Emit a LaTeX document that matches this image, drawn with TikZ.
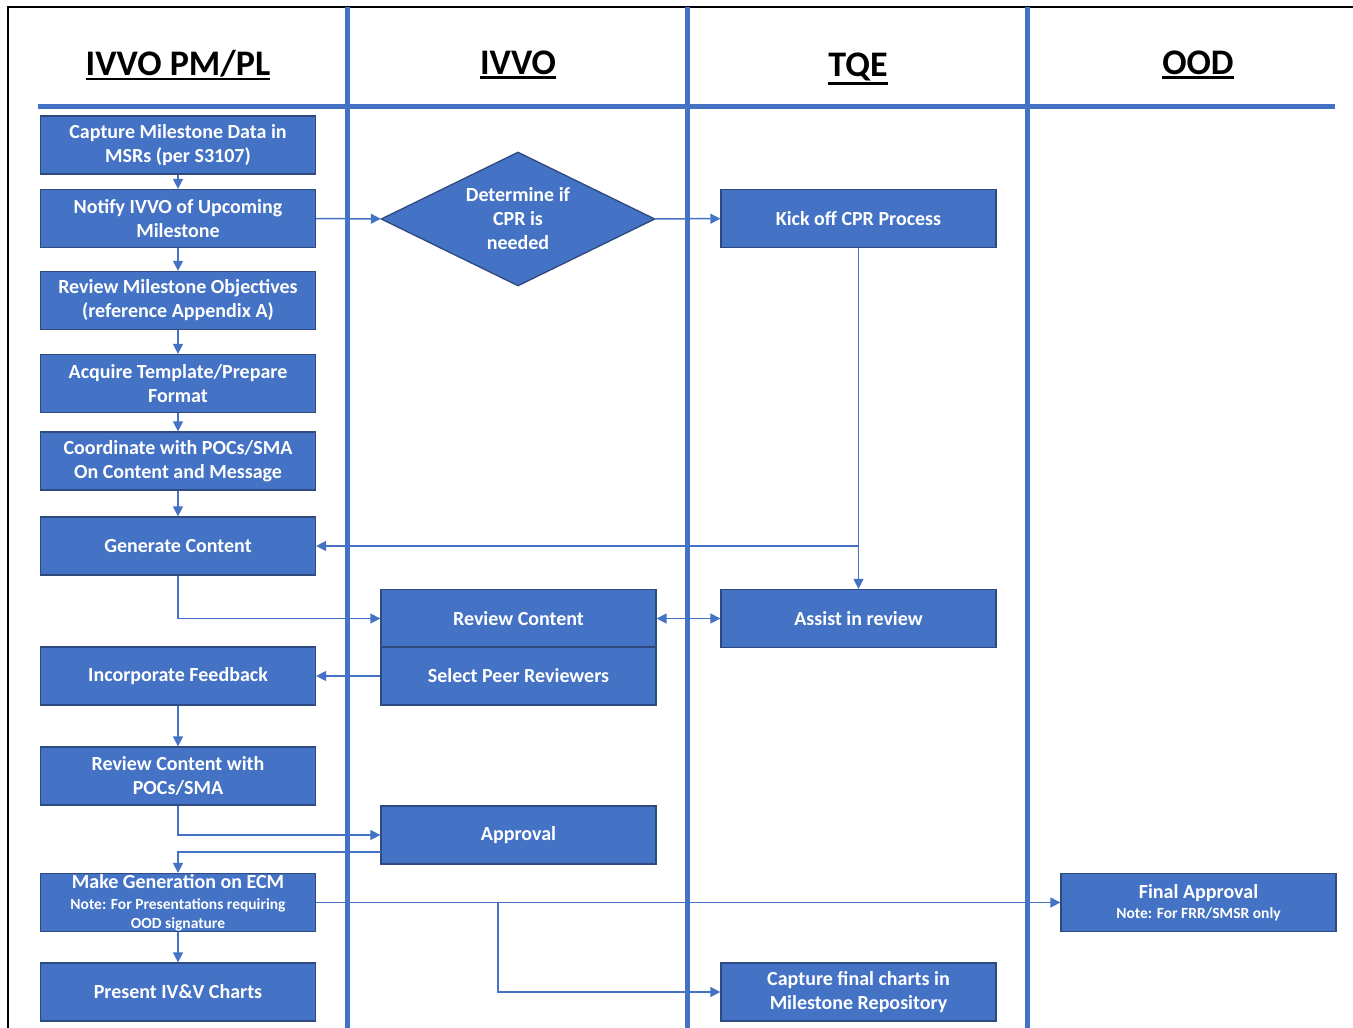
\documentclass[tikz,border=0pt]{standalone}
\usepackage{fontspec}
\setmainfont{Carlito}
\usetikzlibrary{shapes.geometric,arrows.meta}
\definecolor{laneblue}{HTML}{4472C4}
\definecolor{boxedge}{HTML}{2F4A7E}
\newcommand{\headul}[1]{\vtop{\hbox{#1}\kern1pt\hrule height 2.5pt}}
\newcommand{\notefont}{\fontsize{15.5}{19}\selectfont}
\tikzset{
  stepbox/.style={draw=boxedge, line width=1.3pt, fill=laneblue, text=white,
    minimum width=275pt, minimum height=58pt, align=center, inner sep=2pt,
    font=\fontsize{20}{24}\selectfont\bfseries},
  decide/.style={diamond, aspect=2, draw=boxedge, line width=1.3pt, fill=laneblue, text=white,
    minimum width=274pt, minimum height=134pt, inner sep=0pt, align=center,
    font=\fontsize{20}{24}\selectfont\bfseries},
  flow/.style={draw=laneblue, line width=1.5pt, -{Triangle[length=10pt,width=10pt]}},
  lane/.style={draw=laneblue, line width=5pt},
  head/.style={font=\fontsize{36}{40}\selectfont\bfseries}
}
\begin{document}
\begin{tikzpicture}[x=1pt,y=-1pt]
\useasboundingbox (0,0) rectangle (1353,1028);

% frame and lanes
\draw[line width=2pt] (8,1028) -- (8,7) -- (1353,7);
\foreach \x in {347,687,1027} {
  \draw[lane] (\x,7) -- (\x,1028);
}
\draw[lane] (38,106) -- (1335,106);

% lane headings
\node[head] (hpm) at (178,65) {\headul{IVVO PM/PL}};
\node[head] (hivvo) at (518,65) {\headul{IVVO}};
\node[head] (htqe) at (858,69) {\headul{TQE}};
\node[head] (hood) at (1198,65) {\headul{OOD}};

% IVVO PM/PL steps
\node[stepbox] (cap) at (178,145) {Capture Milestone Data in\\MSRs (per S3107)};
\node[stepbox] (notify) at (178,218.5) {Notify IVVO of Upcoming\\Milestone};
\node[stepbox] (obj) at (178,300.5) {Review Milestone Objectives\\(reference Appendix A)};
\node[stepbox] (tmpl) at (178,383.5) {Acquire Template/Prepare\\Format};
\node[stepbox] (coord) at (178,461) {Coordinate with POCs/SMA\\On Content and Message};
\node[stepbox] (gen) at (178,546) {Generate Content};
\node[stepbox] (incorp) at (178,676) {Incorporate Feedback};
\node[stepbox] (revpoc) at (178,776) {Review Content with\\POCs/SMA};
\node[stepbox, inner sep=0pt] (make) at (178,902.5) {Make Generation on ECM\\[-3pt]
  \notefont Note: For Presentations requiring\\[-5pt]\notefont OOD signature};
\node[stepbox] (present) at (178,992) {Present IV\&V Charts};

% IVVO steps
\node[decide] (cpr) at (518,219) {Determine if\\CPR is\\needed};
\node[stepbox] (rev) at (518.5,618.5) {Review Content};
\node[stepbox] (peer) at (518.5,676) {Select Peer Reviewers};
\node[stepbox] (appr) at (518.5,835) {Approval};

% TQE steps
\node[stepbox] (kick) at (858.5,218.5) {Kick off CPR Process};
\node[stepbox] (assist) at (858.5,618.5) {Assist in review};
\node[stepbox] (capt) at (858.5,992) {Capture final charts in\\Milestone Repository};

% OOD steps
\node[stepbox] (final) at (1198.5,902.5) {Final Approval\\[-4pt]
  \notefont Note: For FRR/SMSR only};

% connectors
\draw[flow] (cap) -- (notify);
\draw[flow] (notify) -- (obj);
\draw[flow] (obj) -- (tmpl);
\draw[flow] (tmpl) -- (coord);
\draw[flow] (coord) -- (gen);
\draw[flow] (notify) -- (cpr);
\draw[flow] (cpr) -- (kick);
\draw[flow] (kick) -- (assist);
\draw[flow] (kick.south |- gen.east) -- (gen);
\draw[flow] (gen) |- (rev);
\draw[flow, {Triangle[length=10pt,width=10pt]}-{Triangle[length=10pt,width=10pt]}] (rev) -- (assist);
\draw[flow] (peer) -- (incorp);
\draw[flow] (incorp) -- (revpoc);
\draw[flow] (revpoc) |- (appr);
\coordinate (approut) at (381,852);
\draw[flow] (approut) -| (make);
\draw[flow] (make) -- (final);
\coordinate (split) at (498,902.5);
\draw[flow] (split) |- (capt);
\draw[flow] (make) -- (present);

\end{tikzpicture}
\end{document}
